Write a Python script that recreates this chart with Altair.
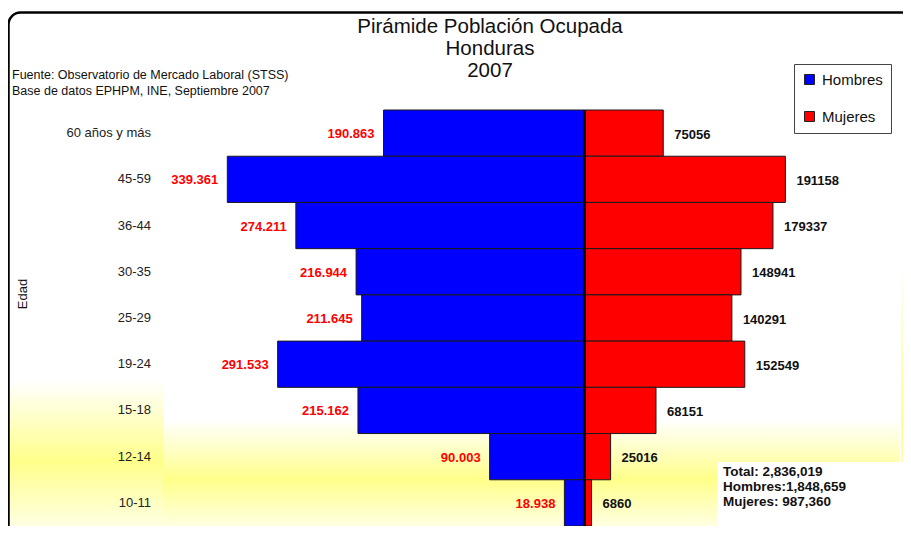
import altair as alt
import pandas as pd

categorias = ["60 años y más", "45-59", "36-44", "30-35", "25-29", "19-24", "15-18", "12-14", "10-11"]
hombres = [190863, 339361, 274211, 216944, 211645, 291533, 215162, 90003, 18938]
mujeres = [75056, 191158, 179337, 148941, 140291, 152549, 68151, 25016, 6860]
titulo = ["Pirámide Población Ocupada", "Honduras", "2007"]
fuente = ["Fuente: Observatorio de Mercado Laboral (STSS)", "Base de datos EPHPM, INE, Septiembre 2007"]
totales = ["Total: 2,836,019", "Hombres:1,848,659", "Mujeres: 987,360"]

rows = []
for c, h, m in zip(categorias, hombres, mujeres):
    rows.append({"edad": c, "sexo": "Hombres", "start": -h, "end": 0,
                 "label": f"{h:,}".replace(",", ".")})
    rows.append({"edad": c, "sexo": "Mujeres", "start": 0, "end": m, "label": str(m)})
df = pd.DataFrame(rows)

FONT = "Liberation Sans"
W, H = 737, 416
xscale = alt.Scale(domain=[-400500, 300100], nice=False, zero=False)
yscale = alt.Scale(domain=categorias, paddingInner=0, paddingOuter=0)


def grad(stops):
    return alt.LinearGradient(
        gradient="linear", x1=0, y1=0, x2=0, y2=1,
        stops=[alt.GradientStop(offset=o, color=c) for o, c in stops])


one = pd.DataFrame({"k": [0]})
bg = alt.Chart(one)

glow_left = bg.mark_rect(color=grad([(0, "#ffffff"), (0.55, "#ffff8a"), (1, "#ffffe6")])).encode(
    x=alt.value(-156), x2=alt.value(0), y=alt.value(270), y2=alt.value(H + 2))
glow_mid = bg.mark_rect(color=grad([(0, "#ffffff"), (0.55, "#ffff8a"), (1, "#ffffe6")])).encode(
    x=alt.value(0), x2=alt.value(W), y=alt.value(310), y2=alt.value(H + 2))
glow_right = bg.mark_rect(color=grad([(0, "#ffffff"), (0.6, "#ffff8a"), (1, "#ffffe6")])).encode(
    x=alt.value(W + 1), x2=alt.value(W + 12), y=alt.value(150), y2=alt.value(H + 2))

frame = bg.mark_rect(fillOpacity=0, stroke="#000000", strokeWidth=2.5, cornerRadius=12).encode(
    x=alt.value(-154.5), x2=alt.value(W + 30), y=alt.value(-97.5), y2=alt.value(H + 30))

bars = alt.Chart(df).mark_bar(stroke="#1a1a1a", strokeWidth=1).encode(
    y=alt.Y("edad:N", sort=categorias, scale=yscale, axis=None),
    x=alt.X("start:Q", scale=xscale, axis=None),
    x2="end:Q",
    color=alt.Color("sexo:N",
                    scale=alt.Scale(domain=["Hombres", "Mujeres"], range=["#0000ff", "#ff0000"]),
                    legend=alt.Legend(orient="none", legendX=631, legendY=-46, title=None,
                                      strokeColor="#444", fillColor="white", padding=8,
                                      rowPadding=21, symbolType="square", symbolSize=100,
                                      symbolStrokeColor="#222", symbolStrokeWidth=1,
                                      symbolOffset=0, labelOffset=5, labelFontSize=15,
                                      labelFont=FONT, labelColor="#111")),
)

center = alt.Chart(df).transform_filter(alt.datum.sexo == "Mujeres").mark_rule(
    color="#000000", strokeWidth=2).encode(
    x=alt.X("start:Q", scale=xscale, axis=None), y=alt.value(0), y2=alt.value(H))

cat_labels = alt.Chart(df).transform_filter(alt.datum.sexo == "Mujeres").mark_text(
    align="right", baseline="middle", fontSize=13, color="#222", font=FONT).encode(
    y=alt.Y("edad:N", sort=categorias, scale=yscale, axis=None),
    x=alt.value(-12), text="edad:N")

lab_h = alt.Chart(df).transform_filter(alt.datum.sexo == "Hombres").mark_text(
    align="right", baseline="middle", dx=-9, dy=1, fontSize=13, fontWeight="bold",
    color="#ff0000", font=FONT).encode(
    y=alt.Y("edad:N", sort=categorias, scale=yscale, axis=None),
    x=alt.X("start:Q", scale=xscale, axis=None), text="label:N")

lab_m = alt.Chart(df).transform_filter(alt.datum.sexo == "Mujeres").mark_text(
    align="left", baseline="middle", dx=11, dy=1.5, fontSize=13, fontWeight="bold",
    color="#111111", font=FONT).encode(
    y=alt.Y("edad:N", sort=categorias, scale=yscale, axis=None),
    x=alt.X("end:Q", scale=xscale, axis=None), text="label:N")


def txt(s, x, y, size, align="left", bold=False, angle=0):
    kw = dict(align=align, baseline="alphabetic", fontSize=size, font=FONT, color="#111111",
              fontWeight="bold" if bold else "normal")
    if angle:
        kw["angle"] = angle
        kw["baseline"] = "middle"
    return bg.mark_text(**kw).encode(x=alt.value(x), y=alt.value(y), text=alt.value(s))


annotations = []
for i, s in enumerate(titulo):
    annotations.append(txt(s, 327, -76.7 + 21.7 * i, 20.5, align="center"))
for i, s in enumerate(fuente):
    annotations.append(txt(s, -151, -31 + 16 * i, 12.5))

tot_box = bg.mark_rect(color="#ffffff").encode(
    x=alt.value(554), x2=alt.value(741), y=alt.value(352), y2=alt.value(H + 2))
for i, s in enumerate(totales):
    annotations.append(txt(s, 560, 365.7 + 15 * i, 13.5, bold=True))
annotations.append(txt("Edad", -140.5, 184, 13, align="center", angle=270))

chart = alt.layer(
    glow_left, glow_mid, glow_right, bars, center, cat_labels, lab_h, lab_m,
    tot_box, *annotations, frame
).properties(
    width=W, height=H,
    autosize=alt.AutoSizeParams(type="none"),
    padding={"left": 155, "top": 102, "right": 3, "bottom": 0},
    background="#ffffff",
).configure_view(strokeWidth=0)

chart.save("out.html", embed_options={"renderer": "svg", "actions": False})
